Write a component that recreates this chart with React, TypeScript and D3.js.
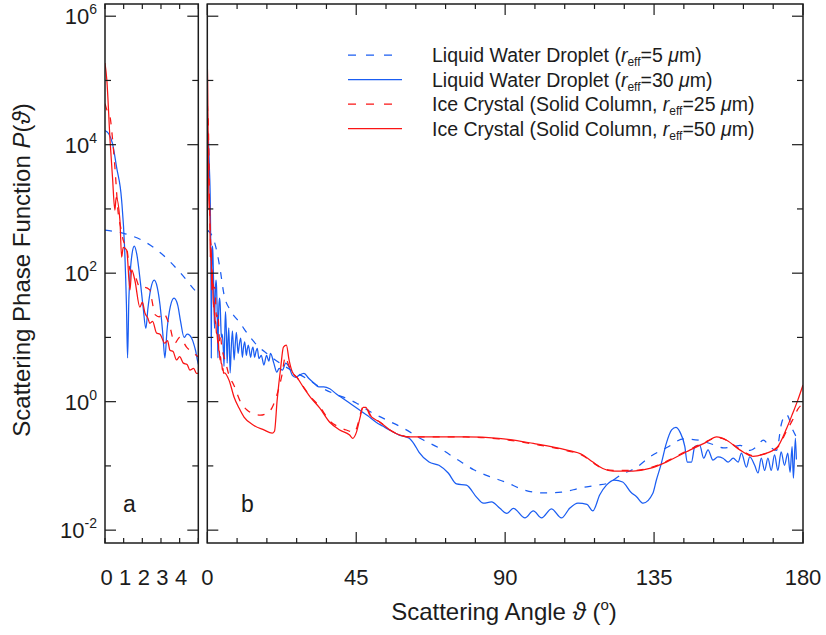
import React from 'react';
import * as d3 from 'd3';

// ---- Data (scattering angle in degrees, log10 of phase function P) ----
const waterR30Angle = [0, 0.2, 0.4, 0.62, 0.89, 1.05, 1.15, 1.21, 1.28, 1.45,
  1.57, 1.7, 1.9, 2.05, 2.19, 2.3, 2.45, 2.64, 2.8, 2.95,
  3.1, 3.21, 3.32, 3.5, 3.7, 3.9, 4.05, 4.24, 4.4, 4.55,
  4.7, 4.85, 5.05, 5.25, 5.5, 5.75, 6.0, 6.25, 6.5, 6.9,
  7.25, 7.6, 8.1, 8.45, 8.8, 9.3, 9.7, 10.1, 10.6, 10.95,
  11.3, 11.8, 12.1, 12.4, 13.1, 13.45, 13.8, 14.3, 14.7, 15.1,
  15.6, 16.3, 17.1, 17.9, 18.6, 19.1, 20.1, 21.0, 21.7, 22.7,
  23.7, 24.7, 25.7, 26.7, 27.7, 29.2, 30.7, 32.2, 33.7, 35.2,
  37, 39, 41, 43.5, 46, 48.5, 51, 53, 55, 58,
  61, 62.5, 64, 67, 70, 72.8, 75.3, 78.3, 81.4, 83.4,
  85.9, 88.4, 90.5, 92.5, 96, 98.5, 101, 104, 107, 109.5,
  112, 114.7, 116.5, 118.6, 120.6, 123, 125.5, 128, 129.7, 131.7,
  134.6, 135.7, 137.2, 138.7, 140.3, 141.6, 142.8, 144.3, 145, 146.3,
  147.3, 148.8, 150, 151.3, 152.8, 154.3, 155.8, 157.4, 158.9, 160.4,
  161.4, 162.9, 163.9, 165.4, 166.4, 167.4, 168.4, 169.4, 170.4, 171.4,
  172.4, 173.4, 174.4, 175.4, 176.1, 176.7, 177.1, 177.7, 178];
const waterR30Log10P = [4.22, 4.17, 4.02, 3.65, 3.14, 2.4, 1.5, 0.68, 1.6, 2.3,
  2.42, 2.3, 1.85, 1.45, 1.14, 1.45, 1.75, 1.89, 1.78, 1.5,
  1.05, 0.68, 1.1, 1.48, 1.61, 1.5, 1.25, 1.0, 1.05, 1.03,
  0.95, 0.8, 0.55, 1.0, 1.4, 1.1, 0.6, 0.95, 1.15, 0.45,
  0.85, 1.1, 0.65, 0.9, 1.08, 0.75, 0.9, 0.99, 0.69, 0.85,
  0.93, 0.72, 0.82, 0.88, 0.69, 0.8, 0.85, 0.69, 0.78, 0.83,
  0.67, 0.72, 0.57, 0.72, 0.63, 0.75, 0.6, 0.46, 0.52, 0.49,
  0.6, 0.54, 0.41, 0.38, 0.41, 0.44, 0.36, 0.29, 0.23, 0.23,
  0.2, 0.12, 0.05, -0.04, -0.13, -0.22, -0.32, -0.38, -0.44, -0.52,
  -0.57, -0.66, -0.79, -0.94, -0.99, -1.11, -1.28, -1.3, -1.49, -1.58,
  -1.56, -1.66, -1.74, -1.66, -1.81, -1.7, -1.81, -1.67, -1.81, -1.66,
  -1.58, -1.6, -1.7, -1.45, -1.3, -1.22, -1.25, -1.41, -1.48, -1.58,
  -1.43, -1.22, -0.96, -0.65, -0.44, -0.4, -0.47, -0.7, -0.94, -0.94,
  -0.7, -0.68, -0.88, -0.75, -0.91, -0.86, -0.88, -0.94, -0.88, -0.94,
  -0.8, -1.02, -0.86, -0.99, -1.11, -0.88, -1.07, -0.88, -1.07, -0.83,
  -1.07, -0.78, -0.99, -0.8, -1.1, -0.7, -1.19, -0.57, -0.9];

const waterR5Angle = [0, 1, 2, 3, 4, 5, 7, 9, 10, 11,
  13, 15, 18, 20, 25, 30, 33, 38, 43, 45,
  49, 54, 59.5, 65, 70, 75.5, 80.5, 85.5, 90, 96,
  101, 107, 113, 118, 121, 125, 129.5, 134, 139, 144,
  148.5, 153, 156, 159, 161, 164, 166, 168, 170, 172,
  173.5, 175, 177, 178];
const waterR5Log10P = [2.67, 2.62, 2.51, 2.31, 2.02, 1.68, 1.42, 1.28, 1.22, 1.14,
  1.0, 0.88, 0.75, 0.67, 0.5, 0.36, 0.26, 0.13, 0.03, -0.02,
  -0.15, -0.28, -0.42, -0.59, -0.72, -0.9, -1.06, -1.17, -1.25, -1.38,
  -1.42, -1.41, -1.34, -1.3, -1.27, -1.14, -1.03, -0.85, -0.71, -0.58,
  -0.6, -0.67, -0.72, -0.7, -0.68, -0.76, -0.7, -0.6, -0.7, -0.76,
  -0.34, -0.2, -0.45, -0.55];

const iceR50Angle = [0, 0.1, 0.27, 0.4, 0.53, 0.6, 0.8, 0.89, 0.98, 1.16,
  1.34, 1.43, 1.6, 1.87, 2.0, 2.14, 2.3, 2.4, 2.55, 2.76,
  2.95, 3.2, 3.35, 3.48, 3.65, 3.83, 4.0, 4.2, 4.4, 4.55,
  4.75, 4.9, 5.2, 6.6, 8.1, 9.6, 11.1, 14.1, 17.1, 19.6,
  20.3, 21.1, 22.2, 23, 23.9, 24.7, 25.7, 27.2, 29.2, 31,
  34, 37, 40, 43, 43.9, 45.1, 46.1, 47.1, 47.9, 49.1,
  52.2, 55.2, 58.2, 61.2, 68, 78, 88, 98.5, 108.4, 113.5,
  116.5, 119.5, 122.6, 128.6, 133.7, 138.7, 144.8, 150.8, 153.9, 156.9,
  160.9, 164.9, 167.9, 172.2, 175.1, 176.9, 178.4, 180];
const iceR50Log10P = [5.27, 5.0, 4.07, 3.5, 2.98, 3.18, 2.82, 2.25, 2.4, 2.36,
  1.74, 2.05, 1.89, 1.47, 1.55, 1.38, 1.3, 1.22, 1.25, 1.07,
  1.05, 0.91, 0.95, 0.8, 0.78, 0.65, 0.7, 0.6, 0.58, 0.49,
  0.52, 0.44, 0.45, 0.33, 0.07, -0.1, -0.24, -0.37, -0.44, -0.49,
  -0.46, 0.02, 0.54, 0.85, 0.88, 0.65, 0.46, 0.37, 0.21, 0.08,
  -0.1, -0.32, -0.44, -0.52, -0.57, -0.47, -0.26, -0.09, -0.09, -0.21,
  -0.32, -0.44, -0.52, -0.55, -0.55, -0.55, -0.57, -0.65, -0.75, -0.83,
  -0.94, -1.04, -1.08, -1.08, -1.04, -0.94, -0.78, -0.63, -0.55, -0.6,
  -0.75, -0.85, -0.82, -0.71, -0.41, -0.18, 0.02, 0.26];

const iceR25Angle = [0, 0.15, 0.27, 0.4, 0.53, 0.71, 0.85, 0.98, 1.16, 1.34,
  1.6, 1.87, 2.14, 2.4, 2.5, 2.7, 2.9, 3.12, 3.48, 3.74,
  4.0, 4.37, 4.9, 5.5, 6.5, 8, 10, 12, 14, 16,
  18, 19.5, 21, 22.5, 23.6, 24.5, 25.7, 27.2, 29.2, 31,
  34, 37, 40, 43, 44, 45.2, 46.2, 47.2, 48, 49.2,
  52.2, 55.2, 58.2, 61.2, 68, 78, 88, 98.5, 108.4, 113.5,
  116.5, 119.5, 122.6, 128.6, 133.7, 138.7, 144.8, 150.8, 153.9, 156.9,
  160.9, 164.9, 167.9, 172.2, 175.1, 176.9, 178.4, 180];
const iceR25Log10P = [4.64, 4.5, 4.43, 4.1, 3.65, 2.93, 2.7, 2.51, 2.4, 2.05,
  1.97, 1.78, 1.78, 1.74, 1.6, 1.35, 1.32, 1.38, 1.16, 0.91,
  1.0, 0.85, 0.72, 0.62, 0.42, 0.26, 0.0, -0.13, -0.19, -0.21,
  -0.18, -0.1, 0.1, 0.4, 0.7, 0.58, 0.45, 0.37, 0.22, 0.09,
  -0.08, -0.3, -0.4, -0.46, -0.48, -0.4, -0.2, -0.07, -0.08, -0.2,
  -0.32, -0.44, -0.52, -0.55, -0.55, -0.55, -0.58, -0.66, -0.76, -0.84,
  -0.95, -1.04, -1.07, -1.07, -1.03, -0.93, -0.77, -0.62, -0.56, -0.6,
  -0.74, -0.84, -0.82, -0.72, -0.45, -0.28, -0.12, -0.03];

const yTickExponents = [-2, -1, 0, 1, 2, 3, 4, 5, 6];
const yLabelExponents = ['6', '4', '2', '0', '-2'];
const panelATicks = [0, 1, 2, 3, 4, 5];
const panelALabels = [0, 1, 2, 3, 4];
const panelBTicks = d3.range(0, 181, 9);
const panelBLabels = [0, 45, 90, 135, 180];

const BLUE = '#1a5df2';
const RED = '#fa1414';
const FONT = '"Liberation Sans", Arial, Helvetica, sans-serif';
const INK = '#1c1c1c';

type Series = { angle: number[]; logP: number[]; color: string; dashed: boolean; radius: string; kind: 'water' | 'ice' };
const seriesList: Series[] = [
  { angle: waterR5Angle, logP: waterR5Log10P, color: BLUE, dashed: true, radius: '5', kind: 'water' },
  { angle: waterR30Angle, logP: waterR30Log10P, color: BLUE, dashed: false, radius: '30', kind: 'water' },
  { angle: iceR25Angle, logP: iceR25Log10P, color: RED, dashed: true, radius: '25', kind: 'ice' },
  { angle: iceR50Angle, logP: iceR50Log10P, color: RED, dashed: false, radius: '50', kind: 'ice' },
];

const TOP = 4, BOTTOM = 543;
const A_L = 105, A_R = 198.3;
const B_L = 207.3, B_R = 803;

const y = d3.scaleLog().domain([Math.pow(10, -2.2), Math.pow(10, 6.19)]).range([BOTTOM, TOP]);
const xA = d3.scaleLinear().domain([0, 5]).range([A_L, A_R]);
const xB = d3.scaleLinear().domain([0, 180]).range([B_L, B_R]);

function pathFor(s: Series, x: d3.ScaleLinear<number, number>) {
  const pts: [number, number][] = s.angle.map((a, i) => [a, Math.pow(10, s.logP[i])]);
  const gen = d3.line<[number, number]>()
    .x(d => x(d[0]))
    .y(d => y(d[1]))
    .curve(d3.curveMonotoneX);
  return gen(pts) || '';
}

function Panel({ x, left, right, id, xTicks, majorEvery }: { x: d3.ScaleLinear<number, number>; left: number; right: number; id: string; xTicks: number[]; majorEvery: number | null }) {
  const lines: React.ReactNode[] = [];
  yTickExponents.forEach(e => {
    const yy = y(Math.pow(10, e));
    const len = e % 2 === 0 ? 11 : 6;
    lines.push(<line key={'yl' + e} x1={left} x2={left + len} y1={yy} y2={yy} />);
    lines.push(<line key={'yr' + e} x1={right} x2={right - len} y1={yy} y2={yy} />);
  });
  xTicks.forEach(t => {
    const xx = x(t);
    const len = majorEvery !== null && t % majorEvery === 0 ? 11 : 5;
    lines.push(<line key={'xb' + t} x1={xx} x2={xx} y1={BOTTOM} y2={BOTTOM - len} />);
    lines.push(<line key={'xt' + t} x1={xx} x2={xx} y1={TOP} y2={TOP + len} />);
  });
  return (
    <g>
      <defs>
        <clipPath id={id}>
          <rect x={left} y={TOP} width={right - left} height={BOTTOM - TOP} />
        </clipPath>
      </defs>
      <g clipPath={`url(#${id})`} fill="none" strokeWidth={1.25} strokeLinejoin="round">
        {seriesList.map((s, i) => (
          <path key={i} d={pathFor(s, x)} stroke={s.color} strokeDasharray={s.dashed ? '7 8' : undefined} />
        ))}
      </g>
      <g stroke={INK} strokeWidth={1.2}>{lines}</g>
      <rect x={left} y={TOP} width={right - left} height={BOTTOM - TOP} fill="none" stroke={INK} strokeWidth={1.5} />
    </g>
  );
}

function LegendLabel({ s, x, yy }: { s: Series; x: number; yy: number }) {
  const head = s.kind === 'water' ? 'Liquid Water Droplet (' : 'Ice Crystal (Solid Column, ';
  return (
    <text x={x} y={yy} fontSize={19.5} fontFamily={FONT} fill={INK}>
      {head}
      <tspan fontStyle="italic">r</tspan>
      <tspan fontSize={12} dy={4}>eff</tspan>
      <tspan dy={-4}>{'=' + s.radius + ' '}</tspan>
      <tspan fontStyle="italic">μ</tspan>
      <tspan>m)</tspan>
    </text>
  );
}

export default function App() {
  const legendRows = [55, 79.5, 104, 128.5];
  return (
    <svg width={826} height={635} style={{ position: 'absolute', left: 0, top: 0, background: '#fff' }}>
      <rect x={0} y={0} width={826} height={635} fill="#fff" />
      <Panel x={xA} left={A_L} right={A_R} id="clipA" xTicks={panelATicks} majorEvery={null} />
      <Panel x={xB} left={B_L} right={B_R} id="clipB" xTicks={panelBTicks} majorEvery={45} />

      {/* y tick labels */}
      {yLabelExponents.map(e => {
        const yy = y(Math.pow(10, +e));
        return (
          <text key={e} x={97} y={yy + 8} textAnchor="end" fontSize={22} fontFamily={FONT} fill={INK}>
            10<tspan fontSize={14} dy={-10}>{e}</tspan>
          </text>
        );
      })}

      {/* x tick labels */}
      {panelALabels.map(t => (
        <text key={'a' + t} x={xA(t) + 1.5} y={585} textAnchor="middle" fontSize={22} fontFamily={FONT} fill={INK}>{t}</text>
      ))}
      {panelBLabels.map(t => (
        <text key={'b' + t} x={xB(t)} y={585} textAnchor="middle" fontSize={22} fontFamily={FONT} fill={INK}>{t}</text>
      ))}

      {/* panel labels */}
      <text x={123} y={512} fontSize={23} fontFamily={FONT} fill={INK}>a</text>
      <text x={241} y={512} fontSize={23} fontFamily={FONT} fill={INK}>b</text>

      {/* axis titles */}
      <text x={504} y={620} textAnchor="middle" fontSize={24} fontFamily={FONT} fill={INK}>
        Scattering Angle <tspan fontStyle="italic">ϑ</tspan> (<tspan fontSize={15} dy={-10}>o</tspan><tspan dy={10}>)</tspan>
      </text>
      <text transform="translate(30,270) rotate(-90)" textAnchor="middle" fontSize={24} fontFamily={FONT} fill={INK}>
        Scattering Phase Function <tspan fontStyle="italic">P</tspan>(<tspan fontStyle="italic">ϑ</tspan>)
      </text>

      {/* legend */}
      {seriesList.map((s, i) => (
        <g key={i}>
          <line x1={348} x2={402} y1={legendRows[i]} y2={legendRows[i]} stroke={s.color} strokeWidth={1.25} strokeDasharray={s.dashed ? '8 10' : undefined} />
          <LegendLabel s={s} x={432} yy={legendRows[i] + 7} />
        </g>
      ))}
    </svg>
  );
}
